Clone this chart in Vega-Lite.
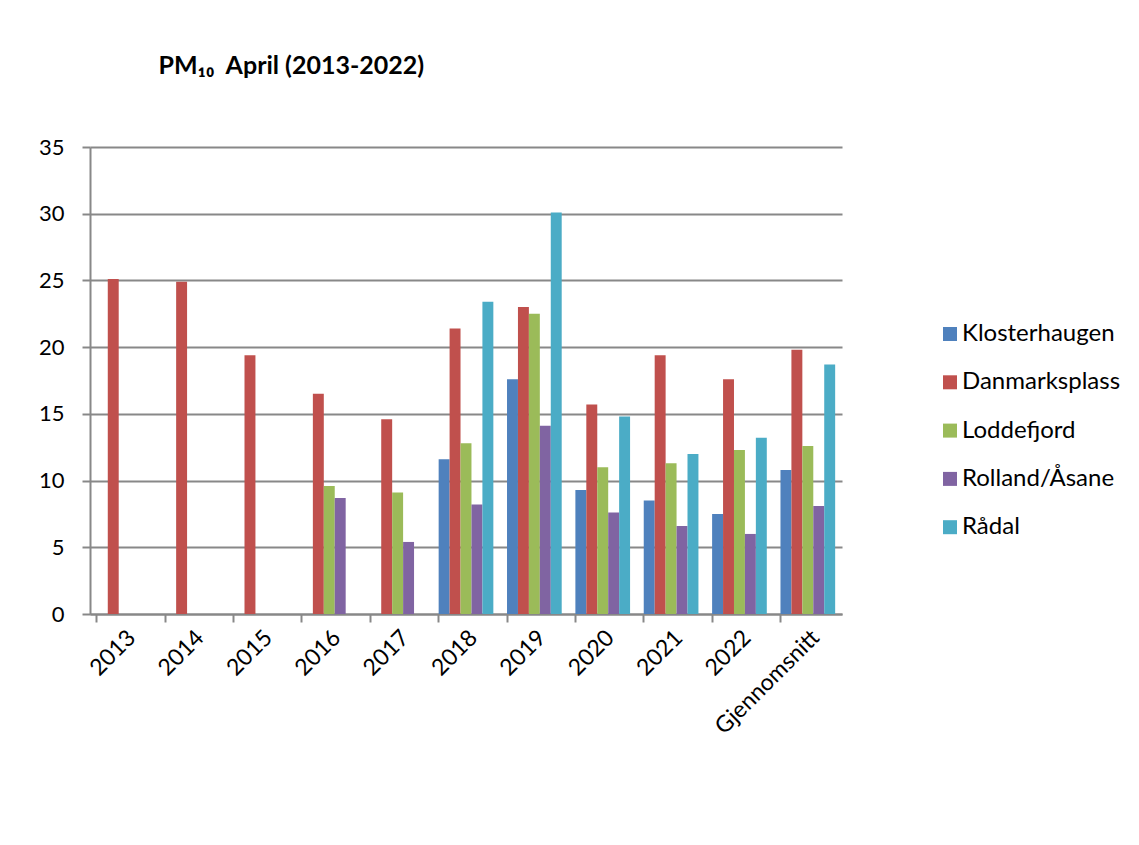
{
  "$schema": "https://vega.github.io/schema/vega-lite/v6.json",
  "autosize": "none",
  "width": 752,
  "height": 467,
  "padding": {"left": 90, "top": 147, "right": 297, "bottom": 231},
  "background": "white",
  "config": {
    "font": "Lato",
    "view": {"stroke": null},
    "axis": {"labelFont": "Lato", "labelColor": "black", "titleFont": "Lato"},
    "legend": {"labelFont": "Lato"}
  },
  "data": {
    "values": [
      {"year": "2013", "station": "Danmarksplass", "value": 25.1},
      {"year": "2014", "station": "Danmarksplass", "value": 24.9},
      {"year": "2015", "station": "Danmarksplass", "value": 19.4},
      {"year": "2016", "station": "Danmarksplass", "value": 16.5},
      {"year": "2016", "station": "Loddefjord", "value": 9.6},
      {"year": "2016", "station": "Rolland/Åsane", "value": 8.7},
      {"year": "2017", "station": "Danmarksplass", "value": 14.6},
      {"year": "2017", "station": "Loddefjord", "value": 9.1},
      {"year": "2017", "station": "Rolland/Åsane", "value": 5.4},
      {"year": "2018", "station": "Klosterhaugen", "value": 11.6},
      {"year": "2018", "station": "Danmarksplass", "value": 21.4},
      {"year": "2018", "station": "Loddefjord", "value": 12.8},
      {"year": "2018", "station": "Rolland/Åsane", "value": 8.2},
      {"year": "2018", "station": "Rådal", "value": 23.4},
      {"year": "2019", "station": "Klosterhaugen", "value": 17.6},
      {"year": "2019", "station": "Danmarksplass", "value": 23.0},
      {"year": "2019", "station": "Loddefjord", "value": 22.5},
      {"year": "2019", "station": "Rolland/Åsane", "value": 14.1},
      {"year": "2019", "station": "Rådal", "value": 30.1},
      {"year": "2020", "station": "Klosterhaugen", "value": 9.3},
      {"year": "2020", "station": "Danmarksplass", "value": 15.7},
      {"year": "2020", "station": "Loddefjord", "value": 11.0},
      {"year": "2020", "station": "Rolland/Åsane", "value": 7.6},
      {"year": "2020", "station": "Rådal", "value": 14.8},
      {"year": "2021", "station": "Klosterhaugen", "value": 8.5},
      {"year": "2021", "station": "Danmarksplass", "value": 19.4},
      {"year": "2021", "station": "Loddefjord", "value": 11.3},
      {"year": "2021", "station": "Rolland/Åsane", "value": 6.6},
      {"year": "2021", "station": "Rådal", "value": 12.0},
      {"year": "2022", "station": "Klosterhaugen", "value": 7.5},
      {"year": "2022", "station": "Danmarksplass", "value": 17.6},
      {"year": "2022", "station": "Loddefjord", "value": 12.3},
      {"year": "2022", "station": "Rolland/Åsane", "value": 6.0},
      {"year": "2022", "station": "Rådal", "value": 13.2},
      {"year": "Gjennomsnitt", "station": "Klosterhaugen", "value": 10.8},
      {"year": "Gjennomsnitt", "station": "Danmarksplass", "value": 19.8},
      {"year": "Gjennomsnitt", "station": "Loddefjord", "value": 12.6},
      {"year": "Gjennomsnitt", "station": "Rolland/Åsane", "value": 8.1},
      {"year": "Gjennomsnitt", "station": "Rådal", "value": 18.7}
    ]
  },
  "layer": [
    {
      "mark": {"type": "bar"},
      "encoding": {
        "x": {
          "field": "year",
          "type": "nominal",
          "sort": null,
          "scale": {"paddingInner": 0.2, "paddingOuter": 0.1},
          "axis": {
            "title": null,
            "labelAngle": -45,
            "labelFontSize": 23,
            "labelPadding": 12,
            "ticks": false,
            "domainColor": "#888888",
            "domainWidth": 2,
            "orient": "bottom"
          }
        },
        "xOffset": {
          "field": "station",
          "type": "nominal",
          "scale": {"domain": ["Klosterhaugen", "Danmarksplass", "Loddefjord", "Rolland/Åsane", "Rådal"], "paddingInner": 0, "paddingOuter": 0}
        },
        "y": {
          "field": "value",
          "type": "quantitative",
          "scale": {"domain": [0, 35], "nice": false},
          "axis": {
            "title": "PM₁₀\u00a0\u00a0April (2013-2022)",
            "titleAngle": 0,
            "titleX": 68,
            "titleY": -74,
            "titleAlign": "left",
            "titleBaseline": "alphabetic",
            "titleFontSize": 25,
            "titleFontWeight": "bold",
            "titleColor": "black",
            "values": [0, 5, 10, 15, 20, 25, 30, 35],
            "labelFontSize": 22,
            "labelPadding": 18,
            "tickSize": 8,
            "tickColor": "#888888",
            "tickWidth": 2,
            "domainColor": "#888888",
            "domainWidth": 2,
            "gridColor": "#888888",
            "gridWidth": 2,
            "gridOpacity": 1
          }
        },
        "color": {
          "field": "station",
          "type": "nominal",
          "scale": {
            "domain": ["Klosterhaugen", "Danmarksplass", "Loddefjord", "Rolland/Åsane", "Rådal"],
            "range": ["#4F81BD", "#C0504D", "#9BBB59", "#8064A2", "#4BACC6"]
          },
          "legend": {
            "title": null,
            "orient": "none",
            "legendX": 848,
            "legendY": 175,
            "symbolType": "square",
            "symbolSize": 196,
            "symbolStrokeWidth": 0,
            "symbolOpacity": 1,
            "labelFontSize": 24,
            "labelColor": "black",
            "rowPadding": 24.3,
            "labelOffset": 0
          }
        }
      }
    },
    {
      "mark": {"type": "bar", "opacity": 0},
      "encoding": {
        "x": {
          "field": "year",
          "type": "nominal",
          "sort": null,
          "axis": {
            "title": null,
            "labels": false,
            "domain": false,
            "ticks": true,
            "tickSize": 8,
            "tickColor": "#888888",
            "tickWidth": 2,
            "bandPosition": 0,
            "orient": "bottom"
          }
        },
        "y": {"field": "value", "type": "quantitative"}
      }
    }
  ],
  "resolve": {"axis": {"x": "independent"}}
}
